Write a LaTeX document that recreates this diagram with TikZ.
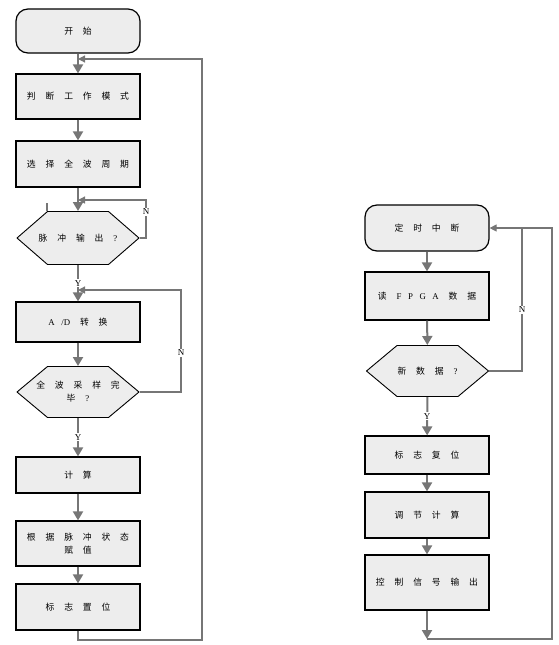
\documentclass[tikz,border=0pt]{standalone}
\usepackage{fontspec}
\setmainfont{Liberation Serif}
\newfontfamily\cjk[WordSpace=5]{Noto Sans CJK SC}
\newfontfamily\lat[WordSpace=3]{Liberation Serif}
\usetikzlibrary{arrows.meta}
\definecolor{boxfill}{RGB}{237,237,237}
\definecolor{flowgray}{RGB}{118,118,118}

\begin{document}
\begin{tikzpicture}[x=1pt,y=-1pt,
    every node/.style={font=\cjk\fontsize{8.8}{13}\selectfont},
    proc/.style={draw=black,line width=1.2pt,fill=boxfill,minimum width=124pt,inner sep=0pt,align=center},
    term/.style={proc,rounded corners=12pt},
    decide/.style={minimum width=123pt,inner sep=0pt,outer sep=0pt,align=center,
        path picture={\filldraw[fill=boxfill,draw=black,line width=.9pt]
            ([xshift=.5pt]path picture bounding box.west)
            -- ([xshift=31pt,yshift=-.5pt]path picture bounding box.north west)
            -- ([xshift=-31pt,yshift=-.5pt]path picture bounding box.north east)
            -- ([xshift=-.5pt]path picture bounding box.east)
            -- ([xshift=-31pt,yshift=.5pt]path picture bounding box.south east)
            -- ([xshift=31pt,yshift=.5pt]path picture bounding box.south west)
            -- cycle;}},
    flow/.style={draw=flowgray,line width=2pt,-{Triangle[width=10pt,length=9pt]}},
    back/.style={draw=flowgray,line width=1.2pt},
    backin/.style={back,-{Triangle[width=7pt,length=7pt]}},
    yn/.style={font=\lat\fontsize{9}{10}\selectfont,fill=white,inner sep=1pt}]
             \useasboundingbox (0,0) rectangle (558,645);

             % left column
             \node[term, minimum height=44pt] (start) at (78, 31) {开 始};
             \node[proc, minimum height=45pt] (mode) at (78, 96.5) {判 断 工 作 模 式};
             \node[proc, minimum height=46pt] (period) at (78, 164) {选 择 全 波 周 期};
             \node[decide, minimum height=54pt] (pulse) at (78, 238) {脉 冲 输 出 {\lat ?}};
             \node[proc, minimum height=40pt] (ad) at (78, 322) {{\lat A /D} 转 换};
             \node[decide, minimum height=52pt] (sample) at (78, 392) {全 波 采 样 完\\毕 {\lat ?}};
             \node[proc, minimum height=36pt] (calc) at (78, 475) {计 算};
             \node[proc, minimum height=45pt] (assign) at (78, 543.5) {根 据 脉 冲 状 态\\赋 值};
             \node[proc, minimum height=46pt] (flagset) at (78, 607) {标 志 置 位};

             \coordinate (top1) at (78, 59);
             \coordinate (join1) at (78, 200);
             \coordinate (join2) at (78, 290);
             \coordinate (low1) at (78, 640);
             \coordinate (far1) at (202, 640);

             \draw[flow] (start) -- (mode);
             \draw[flow] (mode) -- (period);
             \draw[flow] (period) -- (pulse);
             \draw[flow] (pulse) -- node[yn] (y1) {Y} (ad);
             \draw[flow] (ad) -- (sample);
             \draw[flow] (sample) -- node[yn] (y2) {Y} (calc);
             \draw[flow] (calc) -- (assign);
             \draw[flow] (assign) -- (flagset);

             \draw[backin] (pulse.east) -- (146, 238) -- (146, 200) -- (join1);
             \node[yn] (n1) at (146, 212) {N};
             \draw[back] (47, 203) -- (47, 211);

             \draw[backin] (sample.east) -- (181, 392) -- (181, 290) -- (join2);
             \node[yn] (n2) at (181, 353) {N};

             \draw[backin] (flagset.south) -- (low1) -- (far1) -- (202, 59) -- (top1);

             % right column
             \node[term, minimum height=46pt] (timer) at (427, 228) {定 时 中 断};
             \node[proc, minimum height=48pt] (readfpga) at (427, 296) {读 {\lat F P G A} 数 据};
             \node[decide, minimum height=52pt] (newdata) at (427.5, 371) {新 数 据 {\lat ?}};
             \node[proc, minimum height=38pt] (reset) at (427, 455) {标 志 复 位};
             \node[proc, minimum height=46pt] (adjust) at (427, 515) {调 节 计 算};
             \node[proc, minimum height=55pt] (ctrl) at (427, 582.5) {控 制 信 号 输 出};

             \coordinate (low2) at (427, 639);
             \coordinate (far2) at (552, 639);
             \coordinate (join3) at (522, 228);

             \draw[flow] (timer) -- (readfpga);
             \draw[flow] (readfpga) -- (newdata);
             \draw[flow] (newdata) -- node[yn] (y3) {Y} (reset);
             \draw[flow] (reset) -- (adjust);
             \draw[flow] (adjust) -- (ctrl);
             \draw[flow] (ctrl) -- (low2);

             \draw[back] (newdata.east) -- (522, 371) -- (join3);
             \node[yn] (n3) at (522, 310) {N};
             \draw[backin] (low2) -- (far2) -- (552, 228) -- (timer.east);
\end{tikzpicture}
\end{document}
